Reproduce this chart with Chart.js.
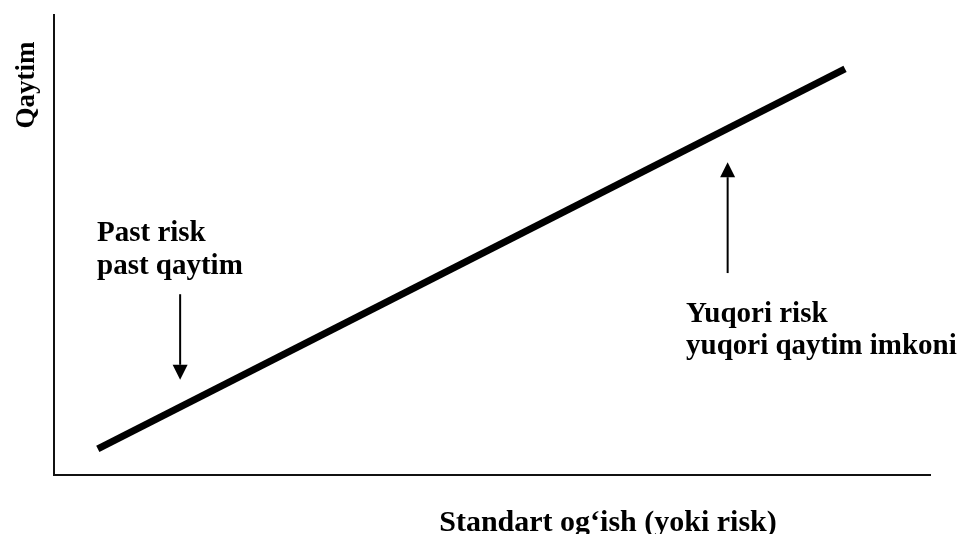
<!DOCTYPE html>
<html>
<head>
<meta charset="utf-8">
<script src="https://cdn.jsdelivr.net/npm/chart.js@4"></script>
<style>
html,body{margin:0;padding:0;background:#fff;}
#wrap{width:961px;height:534px;}
</style>
</head>
<body>
<div id="wrap"><canvas id="c" width="961" height="534"></canvas></div>
<script>
// Data (abstract units: risk on x, return on y)
const riskValues = [5.0, 90.3];
const returnValues = [5.7, 88.3];
const xAxisTitle = "Standart og\u2018ish (yoki risk)";
const yAxisTitle = "Qaytim";
const lowLabel = ["Past risk", "past qaytim"];
const highLabel = ["Yuqori risk", "yuqori qaytim imkoni"];
// arrows: [x, yFrom, yTo] in data units
const lowArrow = [14.4, 39.3, 20.7];
const highArrow = [76.9, 43.9, 68.0];

const FAMILY = '"Liberation Serif", "Times New Roman", serif';

function drawArrow(ctx, x, y1, y2) {
  const dir = y2 > y1 ? 1 : -1;
  const head = 15, half = 7.5;
  ctx.save();
  ctx.strokeStyle = '#000';
  ctx.fillStyle = '#000';
  ctx.lineWidth = 2;
  ctx.beginPath();
  ctx.moveTo(x, y1);
  ctx.lineTo(x, y2 - dir * head);
  ctx.stroke();
  ctx.beginPath();
  ctx.moveTo(x, y2);
  ctx.lineTo(x - half, y2 - dir * head);
  ctx.lineTo(x + half, y2 - dir * head);
  ctx.closePath();
  ctx.fill();
  ctx.restore();
}

const annotations = {
  id: 'annotations',
  afterDatasetsDraw(chart) {
    const ctx = chart.ctx;
    const xs = chart.scales.x, ys = chart.scales.y;
    drawArrow(ctx, xs.getPixelForValue(lowArrow[0]), ys.getPixelForValue(lowArrow[1]), ys.getPixelForValue(lowArrow[2]));
    drawArrow(ctx, xs.getPixelForValue(highArrow[0]), ys.getPixelForValue(highArrow[1]), ys.getPixelForValue(highArrow[2]));
    ctx.save();
    ctx.fillStyle = '#000';
    ctx.font = 'bold 29px ' + FAMILY;
    ctx.textAlign = 'left';
    ctx.textBaseline = 'alphabetic';
    ctx.fillText(lowLabel[0], 97, 241);
    ctx.fillText(lowLabel[1], 97, 274);
    ctx.fillText(highLabel[0], 686, 322);
    ctx.fillText(highLabel[1], 686, 354);
    // x axis title
    ctx.font = 'bold 30px ' + FAMILY;
    ctx.textAlign = 'center';
    ctx.fillText(xAxisTitle, 608, 531);
    // y axis title
    ctx.font = 'bold 27px ' + FAMILY;
    ctx.translate(34, 85);
    ctx.rotate(-Math.PI / 2);
    ctx.fillText(yAxisTitle, 0, 0);
    ctx.restore();
  }
};

new Chart(document.getElementById('c'), {
  type: 'line',
  data: {
    datasets: [{
      data: riskValues.map((x, i) => ({x: x, y: returnValues[i]})),
      borderColor: '#000',
      borderWidth: 7,
      borderCapStyle: 'butt',
      pointRadius: 0,
      fill: false,
      tension: 0
    }]
  },
  options: {
    responsive: false,
    animation: false,
    events: [],
    layout: { padding: { left: 54, top: 15, right: 31, bottom: 59 } },
    plugins: { legend: { display: false }, tooltip: { enabled: false }, title: { display: false } },
    scales: {
      x: {
        type: 'linear', min: 0, max: 100,
        ticks: { display: false },
        grid: { display: false, drawTicks: false },
        border: { display: true, color: '#111', width: 2 }
      },
      y: {
        type: 'linear', min: 0, max: 100,
        ticks: { display: false },
        grid: { display: false, drawTicks: false },
        border: { display: true, color: '#111', width: 2 }
      }
    }
  },
  plugins: [annotations]
});
</script>
</body>
</html>
